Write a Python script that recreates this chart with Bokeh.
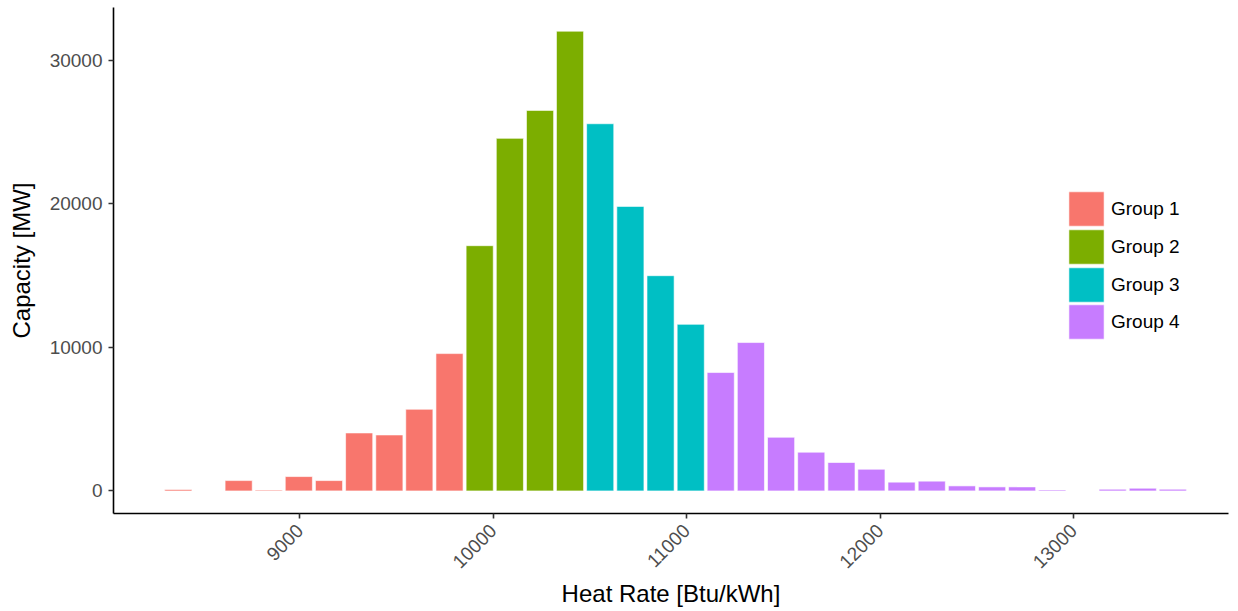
from math import pi
from bokeh.plotting import figure
from bokeh.models import ColumnDataSource, FixedTicker, Legend, LegendItem, Range1d
from bokeh.embed import file_html
from bokeh.resources import INLINE

# ---- data ----
heat_rate = [8372, 8528, 8684, 8839, 8995, 9151, 9307, 9463, 9618, 9774,
             9930, 10086, 10242, 10397,
             10553, 10709, 10865, 11021,
             11176, 11332, 11488, 11644, 11800, 11955, 12111, 12267, 12423,
             12579, 12734, 12890, 13046, 13202, 13358, 13513]
capacity = [100, 0, 720, 60, 1000, 720, 4040, 3900, 5690, 9570,
            17090, 24570, 26520, 32040,
            25590, 19830, 15000, 11610,
            8250, 10340, 3740, 2700, 1980, 1510, 610, 680, 350,
            280, 280, 70, 0, 120, 190, 120]
group = (["Group 1"] * 10 + ["Group 2"] * 4 + ["Group 3"] * 4 + ["Group 4"] * 16)
group_names = ["Group 1", "Group 2", "Group 3", "Group 4"]
group_colors = ["#F8766D", "#7CAE00", "#00BFC4", "#C77CFF"]
bin_width = 155.8
x_ticks = [9000, 10000, 11000, 12000, 13000]
y_ticks = [0, 10000, 20000, 30000]

FONT = "Liberation Sans"

p = figure(width=1238, height=611, output_backend="svg", toolbar_location=None,
           x_range=Range1d(8037, 13801), y_range=Range1d(-1574, 33691),
           min_border_left=113, min_border_right=10, min_border_top=7,
           min_border_bottom=98)

# legend key positions (screen px from the frame's bottom-left), one key each
legend_y = [283, 245, 207, 170]

for name, col, ly in zip(group_names, group_colors, legend_y):
    xs = [x for x, g in zip(heat_rate, group) if g == name]
    ys = [y for y, g in zip(capacity, group) if g == name]
    src = ColumnDataSource(dict(x=xs, top=ys))
    r = p.vbar(x="x", top="top", bottom=0, width=bin_width * 0.9, source=src,
               fill_color=col, line_color="white", line_width=0.6)
    leg = Legend(items=[LegendItem(label=name, renderers=[r])],
                 location=(951, ly), glyph_height=43, glyph_width=44,
                 spacing=0, padding=0, margin=0, label_standoff=3,
                 label_text_font=FONT, label_text_font_size="19px",
                 label_text_color="black", border_line_alpha=0,
                 background_fill_alpha=0)
    p.add_layout(leg, "center")

p.grid.visible = False
p.outline_line_alpha = 0

for ax in (p.xaxis[0], p.yaxis[0]):
    ax.axis_line_color = "black"
    ax.axis_line_width = 1.6
    ax.major_tick_line_color = "#333333"
    ax.major_tick_line_width = 1.6
    ax.major_tick_out = 5
    ax.major_tick_in = 0
    ax.minor_tick_line_alpha = 0
    ax.major_label_text_font = FONT
    ax.major_label_text_font_size = "19px"
    ax.major_label_text_color = "#4D4D4D"
    ax.axis_label_text_font = FONT
    ax.axis_label_text_font_size = "24px"
    ax.axis_label_text_font_style = "normal"
    ax.axis_label_text_color = "black"

p.xaxis.ticker = FixedTicker(ticks=x_ticks)
p.yaxis.ticker = FixedTicker(ticks=y_ticks)
p.xaxis.major_label_orientation = pi / 4
p.xaxis.axis_label = "Heat Rate [Btu/kWh]"
p.yaxis.axis_label = "Capacity [MW]"
p.yaxis.major_label_standoff = 6
p.xaxis.major_label_standoff = 9
p.yaxis.axis_label_standoff = 12
p.xaxis.axis_label_standoff = 3

open("out.html", "w").write(file_html(p, INLINE))
